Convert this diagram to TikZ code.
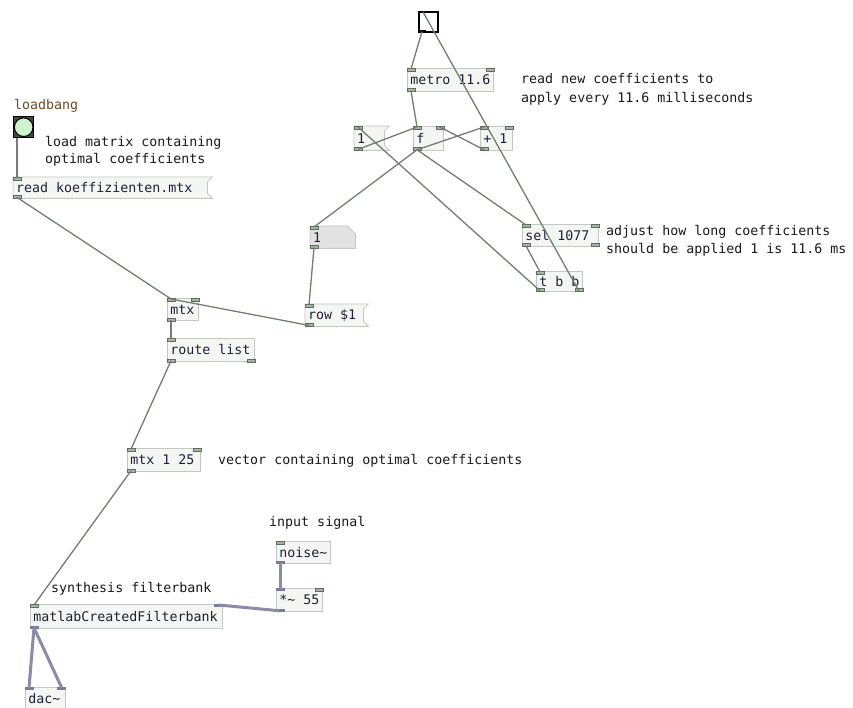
\documentclass[tikz,border=0pt]{standalone}
\usepackage{fontspec}
\newfontfamily\pdmono{DejaVu Sans Mono}
\usetikzlibrary{calc}
\definecolor{boxfill}{HTML}{F4F6F4}
\definecolor{boxline}{HTML}{C4C8C4}
\definecolor{portlight}{HTML}{A9B4A9}
\definecolor{portdark}{HTML}{5E6E5E}
\definecolor{wirec}{HTML}{6F806F}
\definecolor{sigc}{HTML}{8A8BA6}
\definecolor{sigport}{HTML}{7A7B95}
\definecolor{txt}{HTML}{1E2036}
\definecolor{cmt}{HTML}{1A1A1A}
\definecolor{lbl}{HTML}{6B4A26}
\definecolor{atomfill}{HTML}{E2E2E2}
\definecolor{bngdark}{HTML}{3F4E3F}
\definecolor{bnglight}{HTML}{CFF3CF}
\newcommand\pdfnt{\pdmono\fontsize{13.3}{16}\selectfont}
\newcommand\inL[1]{\filldraw[port] ($(#1.north west)$) rectangle ++(8,3); \coordinate (#1-iL) at ($(#1.north west)+(4,1)$);}
\newcommand\inR[1]{\filldraw[port] ($(#1.north east)+(-8,0)$) rectangle ++(8,3); \coordinate (#1-iR) at ($(#1.north east)+(-4,1)$);}
\newcommand\outL[1]{\filldraw[port] ($(#1.south west)+(0,-3)$) rectangle ++(8,3); \coordinate (#1-oL) at ($(#1.south west)+(4,-1)$);}
\newcommand\outR[1]{\filldraw[port] ($(#1.south east)+(-8,-3)$) rectangle ++(8,3); \coordinate (#1-oR) at ($(#1.south east)+(-4,-1)$);}
\newcommand\sinL[1]{\fill[sport] ($(#1.north west)$) rectangle ++(9,3); \coordinate (#1-iL) at ($(#1.north west)+(4,1)$);}
\newcommand\sinR[1]{\fill[sport] ($(#1.north east)+(-9,0)$) rectangle ++(9,3); \coordinate (#1-iR) at ($(#1.north east)+(-4,1)$);}
\newcommand\soutL[1]{\fill[sport] ($(#1.south west)+(0,-3)$) rectangle ++(9,3); \coordinate (#1-oL) at ($(#1.south west)+(4,-1)$);}
\newcommand\msgflag[1]{\draw[draw=boxline,fill=boxfill,line width=0.8pt] (#1.north west) -- ($(#1.north east)+(5,0)$) -- ($(#1.north east)+(0,5)$) -- ($(#1.south east)+(0,-5)$) -- ($(#1.south east)+(5,0)$) -- (#1.south west) -- cycle;}
\newcommand\T[1]{\spaceskip=0pt\xspaceskip=0pt\relax\mbox{#1}}
\begin{document}
\begin{tikzpicture}[x=1pt,y=-1pt,
  pd/.style={anchor=north west, inner xsep=3pt, inner ysep=0pt, align=flush left, font=\pdfnt, text=txt},
  obj/.style={pd, draw=boxline, fill=boxfill, line width=0.8pt},
  msg/.style={pd},
  port/.style={fill=portlight, draw=portdark, line width=0.6pt},
  sport/.style={fill=sigport},
  wire/.style={draw=wirec, line width=1.3pt},
  sig/.style={draw=sigc, line width=3pt},
  comment/.style={anchor=base west, inner sep=0pt, font=\pdfnt, text=cmt}]
\useasboundingbox[fill=white] (0,0) rectangle (853,708);

% toggle
\node[draw=black, fill=white, line width=1.6pt, minimum width=19pt, minimum height=20pt, inner sep=0pt, anchor=north west] (tog) at (418,11) {};
\coordinate (tog-iL) at ($(tog.north west)+(5,1)$);
\coordinate (tog-oL) at ($(tog.south west)+(4,-1)$);
\fill[black] (tog.north west) rectangle ++(8,2.5);
\fill[black] ($(tog.south west)+(0,-2.5)$) rectangle ++(8,2.5);

% objects
\node[obj, text width=80pt, minimum height=23pt] (metro) at (407,68) {\T{metro 11.6}};
\node[obj, text width=24pt, minimum height=24pt] (f) at (413,126) {\T{f}};
\node[obj, text width=26pt, minimum height=24pt] (plus) at (480,126) {\T{+ 1}};
\node[obj, text width=70pt, minimum height=22pt] (sel) at (522,224) {\T{sel 1077}};
\node[obj, text width=40pt, minimum height=20pt] (tbb) at (536,271) {\T{t b b}};
\node[obj, text width=25pt, minimum height=22pt] (mtx) at (167,298) {\T{mtx}};
\node[obj, text width=81pt, minimum height=23pt] (route) at (167,338) {\T{route list}};
\node[obj, text width=67pt, minimum height=23pt] (mtxv) at (127,448) {\T{mtx 1 25}};
\node[obj, text width=48pt, minimum height=22pt] (noise) at (276,541) {\T{noise\char`~}};
\node[obj, text width=40pt, minimum height=23pt] (mul) at (276,588) {\T{*\char`~{} 55}};
\node[obj, text width=186pt, minimum height=24pt] (filt) at (30,604) {\T{matlabCreatedFilterbank}};
\node[obj, text width=34pt, minimum height=22pt] (dac) at (25,687) {\T{dac\char`~}};

% message boxes
\node[msg, text width=24pt, minimum height=24pt] (one) at (354,126) {};
\node[msg, text width=52pt, minimum height=22pt] (row) at (305,304) {};
\node[msg, text width=188pt, minimum height=21pt] (read) at (13,177) {};
\msgflag{one}
\msgflag{row}
\msgflag{read}
\node[msg, text width=24pt, minimum height=24pt] (onet) at (354,126) {\T{1}};
\node[msg, text width=52pt, minimum height=22pt] (rowt) at (305,304) {\T{row \$1}};
\node[msg, text width=188pt, minimum height=21pt] (readt) at (13,177) {\T{read koeffizienten.mtx}};

% atom box
\node[pd, text width=39pt, minimum height=22pt] (num) at (310,226) {};
\draw[draw=boxline, fill=atomfill, line width=0.8pt] (num.north west) -- ($(num.north east)+(-8,0)$) -- ($(num.north east)+(0,8)$) -- (num.south east) -- (num.south west) -- cycle;
\node[pd, text width=39pt, minimum height=22pt] (numt) at (310,226) {\T{1}};

% bang
\node[draw=black, fill=bngdark, line width=1.4pt, minimum width=20pt, minimum height=21pt, inner sep=0pt, anchor=north west] (bng) at (13,116) {};
\draw[black, fill=bnglight, line width=1pt] (bng.center) circle (9.3);
\coordinate (bng-oL) at ($(bng.south west)+(4,0)$);

% ports
\inL{metro}\inR{metro}\outL{metro}
\inL{one}\outL{one}
\inL{f}\inR{f}\outL{f}
\inL{plus}\inR{plus}\outL{plus}
\inL{num}\outL{num}
\inL{sel}\inR{sel}\outL{sel}\outR{sel}
\inL{tbb}\outL{tbb}\outR{tbb}
\inL{row}\outL{row}
\inL{mtx}\inR{mtx}\outL{mtx}
\inL{route}\outL{route}\outR{route}
\inL{mtxv}\inR{mtxv}\outL{mtxv}
\inL{read}\outL{read}
\inL{noise}\soutL{noise}
\sinL{mul}\inR{mul}\soutL{mul}
\inL{filt}\sinR{filt}\soutL{filt}
\sinL{dac}\sinR{dac}

% control connections
\draw[wire] (tog-oL) -- (metro-iL);
\draw[wire] (metro-oL) -- (f-iL);
\draw[wire] (one-oL) -- (f-iL);
\draw[wire] (f-oL) -- (plus-iL);
\draw[wire] (plus-oL) -- (f-iR);
\draw[wire] (f-oL) -- (num-iL);
\draw[wire] (f-oL) -- (sel-iL);
\draw[wire] (sel-oL) -- (tbb-iL);
\draw[wire] (tbb-oL) -- (one-iL);
\draw[wire] (tbb-oR) -- (tog-iL);
\draw[wire] (num-oL) -- (row-iL);
\draw[wire] (row-oL) -- (mtx-iL);
\draw[wire] (read-oL) -- (mtx-iL);
\draw[wire] (bng-oL) -- (read-iL);
\draw[wire] (mtx-oL) -- (route-iL);
\draw[wire] (route-oL) -- (mtxv-iL);
\draw[wire] (mtxv-oL) -- (filt-iL);
% signal connections
\draw[sig] (noise-oL) -- (mul-iL);
\draw[sig] (mul-oL) -- (filt-iR);
\draw[sig] (filt-oL) -- (dac-iL);
\draw[sig] (filt-oL) -- (dac-iR);

% comments
\node[comment, text=lbl] (c0) at (14,110) {loadbang};
\node[comment] (c1) at (45,147) {load matrix containing};
\node[comment] (c2) at (45,164) {optimal coefficients};
\node[comment] (c3) at (521,84) {read new coefficients to};
\node[comment] (c4) at (521,103) {apply every 11.6 milliseconds};
\node[comment] (c5) at (606,236) {adjust how long coefficients};
\node[comment] (c6) at (606,254) {should be applied 1 is 11.6 ms};
\node[comment] (c7) at (218,464) {vector containing optimal coefficients};
\node[comment] (c8) at (269,526) {input signal};
\node[comment] (c9) at (51,592) {synthesis filterbank};
\end{tikzpicture}
\end{document}
